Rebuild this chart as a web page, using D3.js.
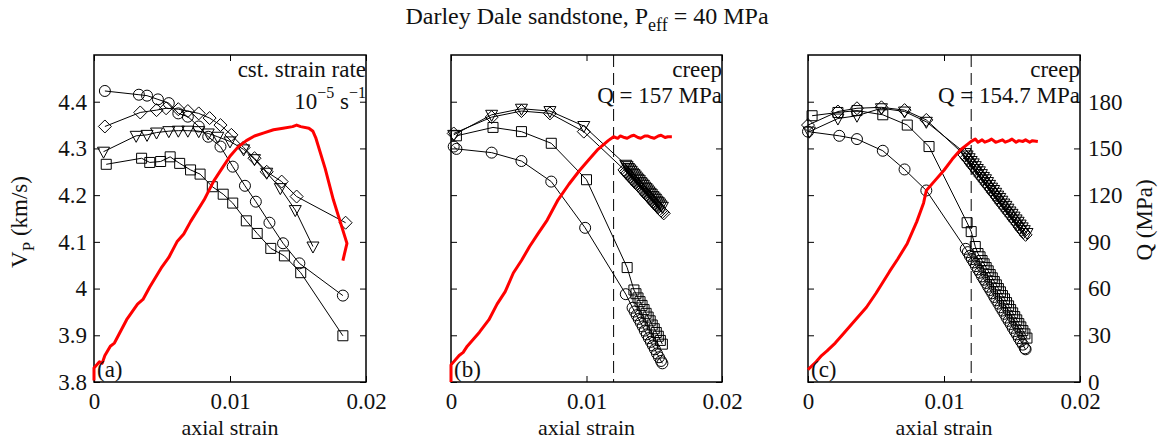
<!DOCTYPE html>
<html lang="en">
<head>
<meta charset="UTF-8" />
<title>Darley Dale sandstone, Peff = 40 MPa</title>
<script src="https://d3js.org/d3.v7.min.js"></script>
<style>
  body { margin: 0; background: #fff; }
  svg text { font-family: "Liberation Serif", "Times New Roman", serif; fill: #111; }
</style>
</head>
<body>
<svg id="chart"></svg>
<script>
// ---- data: [axial strain, value] ----
// panel (a): constant strain rate, Vp in km/s
const aCircles = [[0.0008,4.423],[0.0033,4.415],[0.0039,4.413],[0.0047,4.405],[0.0055,4.397],[0.0062,4.375],[0.0069,4.368],[0.0077,4.347],[0.0084,4.325],[0.0093,4.304],[0.0102,4.261],[0.0111,4.220],[0.0119,4.186],[0.0129,4.141],[0.0139,4.097],[0.0151,4.054],[0.0183,3.985]];
const aDiamonds = [[0.0008,4.347],[0.0034,4.377],[0.0046,4.382],[0.0053,4.386],[0.0062,4.384],[0.0069,4.380],[0.0077,4.375],[0.0085,4.365],[0.0093,4.350],[0.0101,4.329],[0.0110,4.302],[0.0118,4.279],[0.0127,4.250],[0.0138,4.229],[0.0149,4.197],[0.0185,4.141]];
const aTriangles = [[0.0007,4.293],[0.0031,4.327],[0.0039,4.329],[0.0046,4.334],[0.0055,4.337],[0.0062,4.338],[0.0069,4.338],[0.0077,4.337],[0.0084,4.332],[0.0091,4.325],[0.0100,4.315],[0.0110,4.298],[0.0118,4.277],[0.0127,4.248],[0.0137,4.215],[0.0148,4.168],[0.0161,4.090]];
const aSquares = [[0.0009,4.266],[0.0035,4.279],[0.0041,4.270],[0.0049,4.272],[0.0056,4.282],[0.0063,4.268],[0.0071,4.254],[0.0078,4.245],[0.0087,4.218],[0.0095,4.202],[0.0102,4.183],[0.0112,4.145],[0.0120,4.118],[0.0130,4.086],[0.0140,4.070],[0.0152,4.034],[0.0183,3.899]];
// differential stress Q in MPa
const aStress = [[0,1],[0,9],[0.0004,13],[0.0006,12],[0.0008,17],[0.0012,23],[0.0015,25],[0.0018,30],[0.0024,40],[0.0032,50],[0.0036,53],[0.0041,61],[0.0050,74],[0.0055,80],[0.0061,90],[0.0066,95],[0.0071,103],[0.0081,117],[0.0088,129],[0.0094,137],[0.0100,145],[0.0106,151],[0.0112,155],[0.0118,158],[0.0125,160],[0.0132,162],[0.0139,163],[0.0146,164],[0.0149,165],[0.0152,164],[0.0158,163],[0.0161,161],[0.0163,157],[0.0170,137],[0.0176,117],[0.0186,89],[0.0183,78]];

// panel (b): creep at Q = 157 MPa
const bCircles = [[0.0002,4.304],[0.0004,4.299],[0.0030,4.291],[0.0052,4.273],[0.0074,4.229],[0.0099,4.130],[0.0129,3.988],[0.0134,3.959],[0.01355,3.951],[0.0137,3.943],[0.01385,3.935],[0.0140,3.927],[0.01415,3.919],[0.0143,3.910],[0.01445,3.902],[0.0146,3.894],[0.01475,3.886],[0.0149,3.878],[0.01505,3.870],[0.0152,3.861],[0.01535,3.853],[0.0155,3.845],[0.0156,3.840]];
const bSquares = [[0.0004,4.327],[0.0031,4.345],[0.0052,4.336],[0.0074,4.311],[0.0100,4.233],[0.0130,4.045],[0.0135,3.997],[0.01365,3.989],[0.0138,3.980],[0.01395,3.972],[0.0141,3.964],[0.01425,3.955],[0.0144,3.947],[0.01455,3.939],[0.0147,3.931],[0.01485,3.922],[0.0150,3.914],[0.01515,3.906],[0.0153,3.898],[0.01545,3.889],[0.0156,3.881]];
const bDiamonds = [[0.0002,4.332],[0.0030,4.367],[0.0052,4.380],[0.0073,4.375],[0.0098,4.336],[0.0128,4.254],[0.0129,4.250],[0.0130,4.247],[0.0131,4.244],[0.0132,4.240],[0.0133,4.237],[0.0134,4.234],[0.0135,4.231],[0.0136,4.228],[0.0137,4.224],[0.0138,4.221],[0.0139,4.218],[0.0140,4.215],[0.0141,4.212],[0.0142,4.209],[0.0143,4.206],[0.0144,4.202],[0.0145,4.199],[0.0146,4.196],[0.0147,4.193],[0.0148,4.190],[0.0149,4.186],[0.0150,4.183],[0.0151,4.180],[0.0152,4.177],[0.0153,4.174],[0.0154,4.170],[0.0155,4.167],[0.0156,4.164],[0.0157,4.161]];
const bTriangles = [[0.0002,4.329],[0.0030,4.372],[0.0052,4.385],[0.0073,4.380],[0.0098,4.348],[0.0129,4.265],[0.0130,4.262],[0.0131,4.258],[0.0132,4.255],[0.0133,4.252],[0.0134,4.248],[0.0135,4.245],[0.0136,4.242],[0.0137,4.238],[0.0138,4.235],[0.0139,4.232],[0.0140,4.228],[0.0141,4.225],[0.0142,4.222],[0.0143,4.218],[0.0144,4.215],[0.0145,4.212],[0.0146,4.208],[0.0147,4.205],[0.0148,4.202],[0.0149,4.198],[0.0150,4.195],[0.0151,4.192],[0.0152,4.188],[0.0153,4.185],[0.0154,4.182],[0.0155,4.178],[0.0156,4.175]];
const bStress = [[0,0],[0,11],[0.0006,17],[0.0009,19],[0.0012,23],[0.0021,32],[0.0028,40],[0.0034,50],[0.0040,58],[0.0046,70],[0.0052,78],[0.0058,87],[0.0064,95],[0.0071,104],[0.0079,117],[0.0087,127],[0.0095,136],[0.0102,143],[0.0108,149],[0.0116,155],[0.0120,157.5],[0.0123,156.5],[0.0125,158],[0.0128,157],[0.0130,156.5],[0.0133,158],[0.0135,158.5],[0.0138,157],[0.0140,156.5],[0.0143,158],[0.0145,158],[0.0148,157],[0.0150,156.5],[0.0153,158],[0.0155,158.5],[0.0158,157],[0.0160,157.5],[0.0163,157.5]];

// panel (c): creep at Q = 154.7 MPa
const cCircles = [[0.0000,4.336],[0.0023,4.327],[0.0036,4.320],[0.0055,4.295],[0.0071,4.255],[0.0087,4.210],[0.0116,4.085],[0.01175,4.078],[0.0119,4.070],[0.01205,4.063],[0.0122,4.056],[0.01235,4.048],[0.0125,4.041],[0.01265,4.034],[0.0128,4.026],[0.01295,4.019],[0.0131,4.012],[0.01325,4.004],[0.0134,3.997],[0.01355,3.990],[0.0137,3.982],[0.01385,3.975],[0.0140,3.968],[0.01415,3.960],[0.0143,3.953],[0.01445,3.946],[0.0146,3.938],[0.01475,3.931],[0.0149,3.924],[0.01505,3.916],[0.0152,3.909],[0.01535,3.902],[0.0155,3.894],[0.01565,3.887],[0.0158,3.880],[0.01595,3.872],[0.0160,3.870]];
const cSquares = [[0.0003,4.370],[0.0022,4.377],[0.0036,4.381],[0.0055,4.372],[0.0073,4.350],[0.0089,4.304],[0.0117,4.141],[0.0120,4.122],[0.0123,4.090],[0.0125,4.075],[0.01265,4.068],[0.0128,4.060],[0.01295,4.053],[0.0131,4.045],[0.01325,4.038],[0.0134,4.030],[0.01355,4.023],[0.0137,4.015],[0.01385,4.008],[0.0140,4.000],[0.01415,3.993],[0.0143,3.985],[0.01445,3.978],[0.0146,3.970],[0.01475,3.963],[0.0149,3.955],[0.01505,3.948],[0.0152,3.940],[0.01535,3.933],[0.0155,3.925],[0.01565,3.918],[0.0158,3.910],[0.01595,3.903],[0.0161,3.894]];
const cDiamonds = [[0.0000,4.350],[0.0022,4.379],[0.0036,4.386],[0.0054,4.388],[0.0071,4.382],[0.0087,4.361],[0.0115,4.286],[0.01165,4.280],[0.0118,4.275],[0.01195,4.269],[0.0121,4.263],[0.01225,4.258],[0.0124,4.252],[0.01255,4.246],[0.0127,4.240],[0.01285,4.235],[0.0130,4.229],[0.01315,4.223],[0.0133,4.218],[0.01345,4.212],[0.0136,4.206],[0.01375,4.201],[0.0139,4.195],[0.01405,4.189],[0.0142,4.183],[0.01435,4.178],[0.0145,4.172],[0.01465,4.166],[0.0148,4.161],[0.01495,4.155],[0.0151,4.149],[0.01525,4.144],[0.0154,4.138],[0.01555,4.132],[0.0157,4.126],[0.01585,4.121],[0.0160,4.115]];
const cTriangles = [[0.0001,4.336],[0.0022,4.364],[0.0036,4.370],[0.0054,4.386],[0.0071,4.379],[0.0087,4.357],[0.01155,4.290],[0.0117,4.285],[0.01185,4.279],[0.0120,4.273],[0.01215,4.268],[0.0123,4.262],[0.01245,4.256],[0.0126,4.251],[0.01275,4.245],[0.0129,4.239],[0.01305,4.234],[0.0132,4.228],[0.01335,4.222],[0.0135,4.216],[0.01365,4.211],[0.0138,4.205],[0.01395,4.199],[0.0141,4.194],[0.01425,4.188],[0.0144,4.182],[0.01455,4.177],[0.0147,4.171],[0.01485,4.165],[0.0150,4.160],[0.01515,4.154],[0.0153,4.148],[0.01545,4.143],[0.0156,4.137],[0.01575,4.131],[0.0159,4.125],[0.0161,4.119]];
const cStress = [[0,8],[0.0006,13],[0.0010,17],[0.0014,20],[0.0020,25],[0.0026,31],[0.0034,39],[0.0043,48],[0.0050,57],[0.0060,71],[0.0066,79],[0.0073,89],[0.0080,103],[0.0085,115],[0.0087,123],[0.0093,129],[0.0100,136],[0.0106,143],[0.0112,149],[0.0120,154.5],[0.0123,156],[0.0125,154],[0.0128,155.5],[0.0130,154],[0.0133,155],[0.0135,156],[0.0138,154],[0.0140,154.5],[0.0143,155.5],[0.0145,154],[0.0148,155],[0.0150,156],[0.0153,154],[0.0155,155],[0.0158,154.5],[0.0160,155.5],[0.0163,154],[0.0165,155],[0.0169,154.5]];

// ---- axes ----
const xTicks = [0, 0.01, 0.02];
const xTickLabels = ["0", "0.01", "0.02"];
const vpTicks = [3.8, 3.9, 4.0, 4.1, 4.2, 4.3, 4.4];
const vpTickLabels = ["3.8", "3.9", "4", "4.1", "4.2", "4.3", "4.4"];
const qTicks = [0, 30, 60, 90, 120, 150, 180];
const creepStrain = 0.012;

const W = 1158, H = 443;
const plotTop = 55, plotBottom = 382;
const fontSize = 23;

const svg = d3.select("#chart").attr("width", W).attr("height", H);

const panels = [
  { x0: 94, x1: 366, label: "(a)", series: [aCircles, aDiamonds, aTriangles, aSquares], stress: aStress,
    note: null, dashed: false, leftLabels: true, rightLabels: false },
  { x0: 451, x1: 722, label: "(b)", series: [bCircles, bSquares, bDiamonds, bTriangles], stress: bStress,
    note: "Q = 157 MPa", dashed: true, leftLabels: false, rightLabels: false },
  { x0: 808, x1: 1080, label: "(c)", series: [cCircles, cSquares, cDiamonds, cTriangles], stress: cStress,
    note: "Q = 154.7 MPa", dashed: true, leftLabels: false, rightLabels: true }
];
// marker for each panel's series list
const markerOrder = [
  ["circle", "diamond", "triangle", "square"],
  ["circle", "square", "diamond", "triangle"],
  ["circle", "square", "diamond", "triangle"]
];

function markerPath(type) {
  if (type === "circle") return "M5.5,0A5.5,5.5 0 1,1 -5.5,0A5.5,5.5 0 1,1 5.5,0Z";
  if (type === "diamond") return "M0,-6.5L6.5,0L0,6.5L-6.5,0Z";
  if (type === "triangle") return "M-6,-4.5L6,-4.5L0,6.5Z";
  return "M-5,-5L5,-5L5,5L-5,5Z";
}

panels.forEach((p, i) => {
  const x = d3.scaleLinear().domain([0, 0.02]).range([p.x0, p.x1]);
  const y = d3.scaleLinear().domain([3.8, 4.5]).range([plotBottom, plotTop]);
  const q = d3.scaleLinear().domain([0, 210]).range([plotBottom, plotTop]);
  const g = svg.append("g");

  // ticks (inward) on all four sides
  g.append("g")
    .attr("transform", `translate(0,${plotBottom})`)
    .call(d3.axisBottom(x).tickValues(xTicks).tickSize(-6).tickPadding(11)
      .tickFormat((d, k) => xTickLabels[k]));
  g.append("g")
    .attr("transform", `translate(0,${plotTop})`)
    .call(d3.axisTop(x).tickValues(xTicks).tickSize(-6).tickFormat(""));
  g.append("g")
    .attr("transform", `translate(${p.x0},0)`)
    .call(d3.axisLeft(y).tickValues(vpTicks).tickSize(-6).tickPadding(7)
      .tickFormat((d, k) => p.leftLabels ? vpTickLabels[k] : ""));
  g.append("g")
    .attr("transform", `translate(${p.x1},0)`)
    .call(d3.axisRight(q).tickValues(qTicks).tickSize(-6).tickPadding(8)
      .tickFormat(d => p.rightLabels ? d : ""));

  g.selectAll(".domain").remove();
  g.selectAll(".tick line").attr("stroke", "#000").attr("stroke-width", 1);
  g.selectAll(".tick text")
    .attr("font-size", fontSize)
    .attr("font-family", "Liberation Serif, serif")
    .attr("fill", "#111");

  g.append("rect")
    .attr("x", p.x0).attr("y", plotTop)
    .attr("width", p.x1 - p.x0).attr("height", plotBottom - plotTop)
    .attr("fill", "none").attr("stroke", "#000").attr("stroke-width", 1.5);

  // creep onset
  if (p.dashed) {
    g.append("line")
      .attr("x1", x(creepStrain)).attr("x2", x(creepStrain))
      .attr("y1", plotTop).attr("y2", plotBottom)
      .attr("stroke", "#000").attr("stroke-width", 1)
      .attr("stroke-dasharray", "12,6");
  }

  // Vp series
  const line = d3.line().x(d => x(d[0])).y(d => y(d[1]));
  p.series.forEach((s, k) => {
    g.append("path").datum(s)
      .attr("d", line)
      .attr("fill", "none").attr("stroke", "#000").attr("stroke-width", 1);
    g.selectAll(null).data(s).join("path")
      .attr("transform", d => `translate(${x(d[0])},${y(d[1])})`)
      .attr("d", markerPath(markerOrder[i][k]))
      .attr("fill", "none").attr("stroke", "#000").attr("stroke-width", 1);
  });

  // stress curve on right axis
  g.append("path").datum(p.stress)
    .attr("d", d3.line().x(d => x(d[0])).y(d => q(d[1])))
    .attr("fill", "none").attr("stroke", "#ff0000")
    .attr("stroke-width", 3).attr("stroke-linejoin", "round");

  // panel label
  g.append("text")
    .attr("x", p.x0 + 3).attr("y", plotBottom - 5)
    .attr("font-size", fontSize)
    .text(p.label);

  // annotation top right
  if (i === 0) {
    g.append("text").attr("x", p.x1).attr("y", 77)
      .attr("text-anchor", "end").attr("font-size", fontSize)
      .text("cst. strain rate");
    const t = g.append("text").attr("x", p.x1).attr("y", 109)
      .attr("text-anchor", "end").attr("font-size", fontSize);
    t.append("tspan").text("10");
    t.append("tspan").attr("dy", -11).attr("font-size", 16).text("\u22125");
    t.append("tspan").attr("dy", 11).text(" s");
    t.append("tspan").attr("dy", -11).attr("font-size", 16).text("\u22121");
  } else {
    g.append("text").attr("x", p.x1).attr("y", 77)
      .attr("text-anchor", "end").attr("font-size", fontSize)
      .text("creep");
    g.append("text").attr("x", p.x1).attr("y", 103)
      .attr("text-anchor", "end").attr("font-size", fontSize)
      .text(p.note);
  }

  // x label
  g.append("text")
    .attr("x", (p.x0 + p.x1) / 2).attr("y", 435)
    .attr("text-anchor", "middle").attr("font-size", 22)
    .text("axial strain");
});

// title
const title = svg.append("text")
  .attr("x", 587).attr("y", 24)
  .attr("text-anchor", "middle").attr("font-size", 24);
title.append("tspan").text("Darley Dale sandstone, P");
title.append("tspan").attr("dy", 7).attr("font-size", 18).text("eff");
title.append("tspan").attr("dy", -7).text(" = 40 MPa");

// y labels
const yLab = svg.append("text")
  .attr("transform", "translate(27,222) rotate(-90)")
  .attr("text-anchor", "middle").attr("font-size", fontSize);
yLab.append("tspan").text("V");
yLab.append("tspan").attr("dy", 7).attr("font-size", 17).text("P");
yLab.append("tspan").attr("dy", -7).text(" (km/s)");

svg.append("text")
  .attr("transform", "translate(1152,220) rotate(-90)")
  .attr("text-anchor", "middle").attr("font-size", fontSize)
  .text("Q (MPa)");
</script>
</body>
</html>
